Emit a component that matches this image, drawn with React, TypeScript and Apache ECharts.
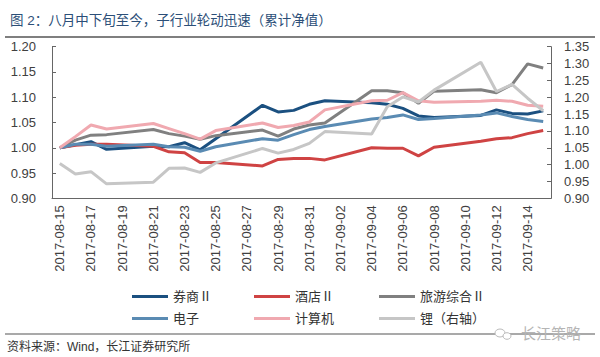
import React, { useEffect, useRef } from "react";
import * as echarts from "echarts";

const calendarDays = [
  "2017-08-15", "2017-08-16", "2017-08-17", "2017-08-18", "2017-08-19", "2017-08-20",
  "2017-08-21", "2017-08-22", "2017-08-23", "2017-08-24", "2017-08-25", "2017-08-26",
  "2017-08-27", "2017-08-28", "2017-08-29", "2017-08-30", "2017-08-31", "2017-09-01",
  "2017-09-02", "2017-09-03", "2017-09-04", "2017-09-05", "2017-09-06", "2017-09-07",
  "2017-09-08", "2017-09-09", "2017-09-10", "2017-09-11", "2017-09-12", "2017-09-13",
  "2017-09-14", "2017-09-15",
];

const tradingDays = [
  "2017-08-15", "2017-08-16", "2017-08-17", "2017-08-18", "2017-08-21", "2017-08-22",
  "2017-08-23", "2017-08-24", "2017-08-25", "2017-08-28", "2017-08-29", "2017-08-30",
  "2017-08-31", "2017-09-01", "2017-09-04", "2017-09-05", "2017-09-06", "2017-09-07",
  "2017-09-08", "2017-09-11", "2017-09-12", "2017-09-13", "2017-09-14", "2017-09-15",
];

const quanShang = [1.000, 1.006, 1.012, 0.997, 1.003, 1.002, 1.010, 0.996, 1.018, 1.084, 1.071, 1.074, 1.086, 1.093, 1.089, 1.086, 1.078, 1.063, 1.060, 1.064, 1.075, 1.068, 1.067, 1.073];
const jiuDian = [1.000, 1.005, 1.007, 1.007, 1.003, 0.992, 0.990, 0.971, 0.971, 0.964, 0.977, 0.979, 0.979, 0.976, 1.000, 0.999, 0.999, 0.984, 1.001, 1.013, 1.018, 1.020, 1.028, 1.034];
const lvYou = [1.000, 1.015, 1.025, 1.026, 1.036, 1.028, 1.023, 1.017, 1.024, 1.035, 1.023, 1.037, 1.045, 1.049, 1.113, 1.113, 1.109, 1.088, 1.112, 1.115, 1.109, 1.125, 1.166, 1.158];
const dianZi = [1.000, 1.007, 1.007, 1.003, 1.007, 1.002, 1.001, 0.993, 1.002, 1.018, 1.015, 1.026, 1.036, 1.042, 1.057, 1.060, 1.065, 1.056, 1.058, 1.065, 1.069, 1.062, 1.056, 1.052];
const jiSuanJi = [1.000, 1.022, 1.045, 1.037, 1.048, 1.038, 1.028, 1.017, 1.034, 1.049, 1.040, 1.044, 1.051, 1.075, 1.093, 1.094, 1.109, 1.093, 1.090, 1.092, 1.094, 1.092, 1.084, 1.082];
const li = [1.003, 0.972, 0.979, 0.943, 0.948, 0.989, 0.990, 0.977, 1.005, 1.048, 1.034, 1.045, 1.063, 1.098, 1.091, 1.172, 1.201, 1.186, 1.221, 1.304, 1.217, 1.238, 1.197, 1.160];

const seriesNames = ["券商Ⅱ", "酒店Ⅱ", "旅游综合Ⅱ", "电子", "计算机", "锂（右轴）"];
const seriesValues = [quanShang, jiuDian, lvYou, dianZi, jiSuanJi, li];
const seriesColors = ["#1B5080", "#CF4343", "#808080", "#5A8BB3", "#F0A9B0", "#C6C6C6"];

const titleText = "图 2：八月中下旬至今，子行业轮动迅速（累计净值）";
const sourceText = "资料来源：Wind，长江证券研究所";
const watermarkText = "长江策略";

const FONT = "'Liberation Sans', Arial, 'Noto Sans CJK SC', sans-serif";

function toCalendar(values: number[]) {
  const map: Record<string, number> = {};
  tradingDays.forEach((d, i) => (map[d] = values[i]));
  return calendarDays.map((d) => (d in map ? map[d] : null));
}

export default function App() {
  const ref = useRef<HTMLDivElement>(null);
  useEffect(() => {
    if (!ref.current) return;
    const chart = echarts.init(ref.current, undefined, { renderer: "svg" });
    const legendPos = [
      [132, 290], [254, 290], [379, 290],
      [132, 312], [254, 312], [379, 312],
    ];
    const option: any = {
      animation: false,
      backgroundColor: "#fff",
      title: {
        text: titleText,
        left: 5,
        top: 9,
        textStyle: { fontSize: 13.5, fontWeight: "normal", color: "#2C4F78", fontFamily: FONT },
      },
      grid: { left: 52, right: 49, top: 46.7, bottom: 158.7, containLabel: false },
      legend: seriesNames.map((n, i) => ({
        data: [n],
        left: legendPos[i][0],
        top: legendPos[i][1],
        icon: "rect",
        itemWidth: 36,
        itemHeight: 3,
        padding: 0,
        textStyle: { fontSize: 13, color: "#333", fontFamily: FONT },
      })),
      xAxis: {
        type: "category",
        data: calendarDays,
        boundaryGap: true,
        axisLine: { lineStyle: { color: "#666", width: 1 } },
        axisTick: { inside: true, length: 4, interval: 1, lineStyle: { color: "#666" } },
        axisLabel: { rotate: 90, interval: 1, fontSize: 13, color: "#404040", margin: 7, fontFamily: FONT },
        splitLine: { show: false },
      },
      yAxis: [
        {
          type: "value",
          min: 0.9,
          max: 1.2,
          interval: 0.05,
          axisLine: { show: true, lineStyle: { color: "#666", width: 1 } },
          axisTick: { show: true, inside: true, length: 4, lineStyle: { color: "#666" } },
          axisLabel: { fontSize: 13, color: "#404040", margin: 16, fontFamily: FONT, formatter: (v: number) => v.toFixed(2) },
          splitLine: { show: false },
        },
        {
          type: "value",
          min: 0.9,
          max: 1.35,
          interval: 0.05,
          position: "right",
          axisLine: { show: true, lineStyle: { color: "#666", width: 1 } },
          axisTick: { show: true, inside: true, length: 4, lineStyle: { color: "#666" } },
          axisLabel: { fontSize: 13, color: "#404040", margin: 13, fontFamily: FONT, formatter: (v: number) => v.toFixed(2) },
          splitLine: { show: false },
        },
      ],
      series: seriesNames.map((n, i) => ({
        name: n,
        type: "line",
        yAxisIndex: i === 5 ? 1 : 0,
        data: toCalendar(seriesValues[i]),
        connectNulls: true,
        showSymbol: false,
        symbol: "none",
        color: seriesColors[i],
        lineStyle: { width: 3, color: seriesColors[i] },
      })),
      graphic: [
        { type: "line", shape: { x1: 5, y1: 37, x2: 595, y2: 37 }, style: { stroke: "#555", lineWidth: 1.5 } },
        { type: "line", shape: { x1: 5, y1: 334, x2: 595, y2: 334 }, style: { stroke: "#555", lineWidth: 1.2 } },
        {
          type: "text",
          left: 7,
          top: 341,
          style: { text: sourceText, fontSize: 12, fill: "#333", fontFamily: FONT },
        },
        { type: "ellipse", shape: { cx: 500, cy: 333, rx: 5, ry: 4 }, style: { stroke: "#bbb", fill: "#fff", lineWidth: 1 }, z: 10 },
        { type: "ellipse", shape: { cx: 507, cy: 336, rx: 4, ry: 3.3 }, style: { stroke: "#bbb", fill: "#fff", lineWidth: 1 }, z: 10 },
        {
          type: "text",
          x: 521,
          y: 326,
          style: { text: watermarkText, fontSize: 15, fill: "#b5b5b5", fontFamily: FONT },
          z: 10,
        },
      ],
    };
    chart.setOption(option);
    return () => chart.dispose();
  }, []);
  return (
    <div
      ref={ref}
      style={{ position: "absolute", left: 0, top: 0, width: 600, height: 357, background: "#fff" }}
    />
  );
}
